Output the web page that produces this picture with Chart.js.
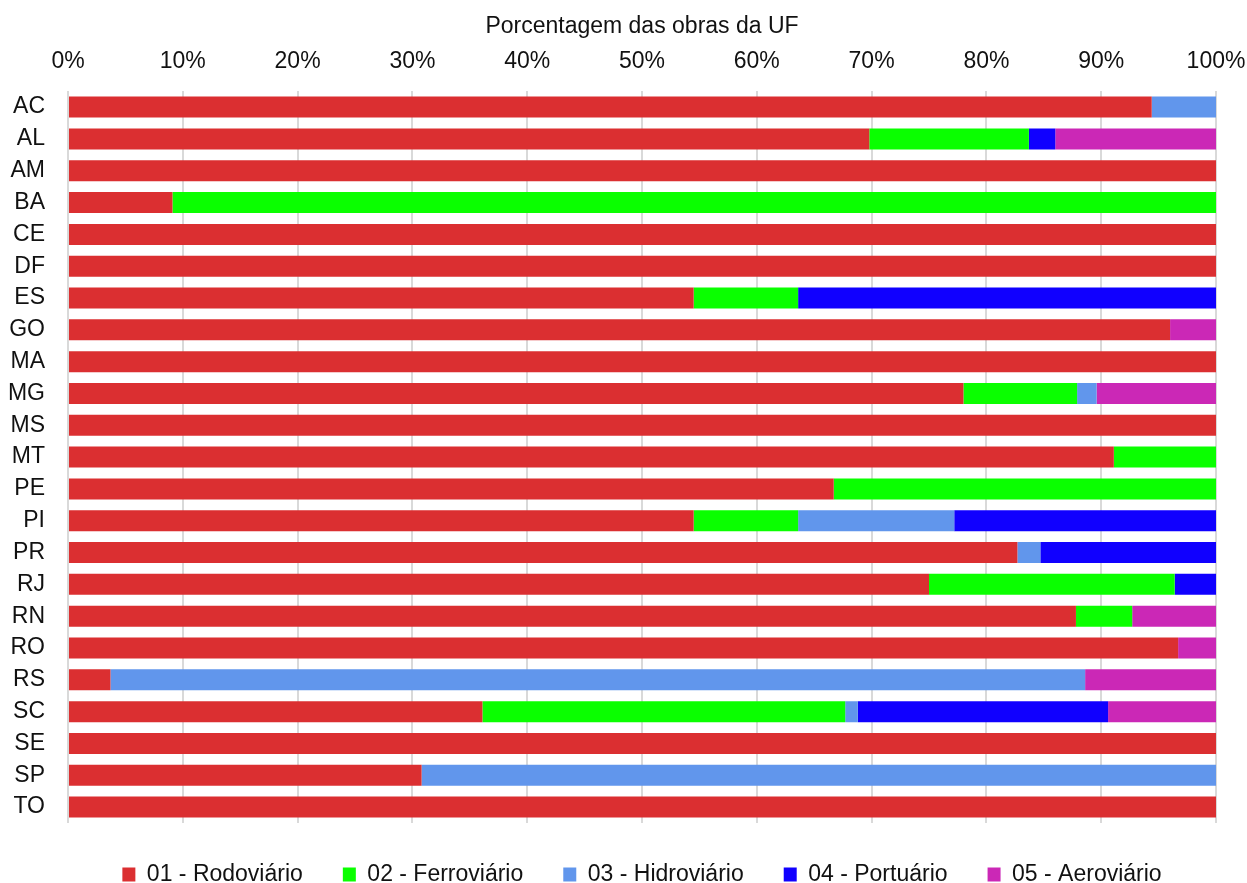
<!DOCTYPE html>
<html>
<head>
<meta charset="utf-8">
<script src="https://cdn.jsdelivr.net/npm/chart.js@4/dist/chart.umd.min.js"></script>
<style>
  html, body { margin: 0; padding: 0; background: #fff; }
  #wrap { width: 1247px; height: 883px; }
</style>
</head>
<body>
<div id="wrap"><canvas id="chart"></canvas></div>
<script>
// UFs e percentual das obras por modal
const ufs = ['AC','AL','AM','BA','CE','DF','ES','GO','MA','MG','MS','MT','PE','PI','PR','RJ','RN','RO','RS','SC','SE','SP','TO'];
const rodoviario  = [94.4, 69.8, 100, 9.1, 100, 100, 54.5, 96.0, 100, 78.0, 100, 91.1, 66.7, 54.5, 82.7, 75.0, 87.8, 96.7, 3.7, 36.1, 100, 30.8, 100];
const ferroviario = [0, 13.9, 0, 90.9, 0, 0, 9.1, 0, 0, 9.9, 0, 8.9, 33.3, 9.1, 0, 21.4, 4.9, 0, 0, 31.6, 0, 0, 0];
const hidroviario = [5.6, 0, 0, 0, 0, 0, 0, 0, 0, 1.7, 0, 0, 0, 13.6, 2.0, 0, 0, 0, 84.9, 1.1, 0, 69.2, 0];
const portuario   = [0, 2.3, 0, 0, 0, 0, 36.4, 0, 0, 0, 0, 0, 0, 22.8, 15.3, 3.6, 0, 0, 0, 21.8, 0, 0, 0];
const aeroviario  = [0, 14.0, 0, 0, 0, 0, 0, 4.0, 0, 10.4, 0, 0, 0, 0, 0, 0, 7.3, 3.3, 11.4, 9.4, 0, 0, 0];
const xTicks = [0, 10, 20, 30, 40, 50, 60, 70, 80, 90, 100];

const font = 'Arial, "Liberation Sans", sans-serif';

function ds(label, data, color) {
    return {
        label: label,
        data: data,
        backgroundColor: color,
        borderWidth: 0,
        barPercentage: 0.66,
        categoryPercentage: 1.0
    };
}

// legenda mais baixa (padding grande so na horizontal)
const legendFit = {
    id: 'legendFit',
    beforeInit(chart) {
        const origFit = chart.legend.fit;
        chart.legend.fit = function () {
            origFit.bind(chart.legend)();
            this.height -= 13;
        };
    }
};

const ctx = document.getElementById('chart').getContext('2d');
new Chart(ctx, {
    type: 'bar',
    data: {
        labels: ufs,
        datasets: [
            ds('01 - Rodoviário', rodoviario, '#DB2F31'),
            ds('02 - Ferroviário', ferroviario, '#0AFF00'),
            ds('03 - Hidroviário', hidroviario, '#6196EC'),
            ds('04 - Portuário', portuario, '#1000FF'),
            ds('05 - Aeroviário', aeroviario, '#CB28B6')
        ]
    },
    plugins: [legendFit],
    options: {
        indexAxis: 'y',
        responsive: true,
        maintainAspectRatio: false,
        animation: false,
        layout: { padding: { left: 8, right: 31, top: 12, bottom: 0 } },
        scales: {
            x: {
                position: 'top',
                stacked: true,
                min: 0,
                max: 100,
                afterBuildTicks: (axis) => { axis.ticks = xTicks.map(v => ({ value: v })); },
                afterFit: (axis) => { axis.paddingLeft = 0; axis.paddingRight = 0; },
                ticks: {
                    callback: (v) => v + '%',
                    color: '#111',
                    font: { family: font, size: 23 },
                    padding: 16
                },
                grid: { color: '#d9d9d9', lineWidth: 2, drawTicks: false },
                border: { display: false },
                title: {
                    display: true,
                    text: 'Porcentagem das obras da UF',
                    color: '#111',
                    font: { family: font, size: 23 },
                    padding: { top: 1, bottom: -9 }
                }
            },
            y: {
                stacked: true,
                afterFit: (axis) => { axis.width = 60; },
                ticks: {
                    color: '#111',
                    font: { family: font, size: 23 },
                    padding: 15
                },
                grid: { display: false },
                border: { display: false }
            }
        },
        plugins: {
            legend: {
                position: 'bottom',
                fullSize: false,
                labels: {
                    boxWidth: 13,
                    boxHeight: 14,
                    color: '#111',
                    font: { family: font, size: 23 },
                    padding: 40
                }
            },
            tooltip: { enabled: false }
        }
    }
});
</script>
</body>
</html>
